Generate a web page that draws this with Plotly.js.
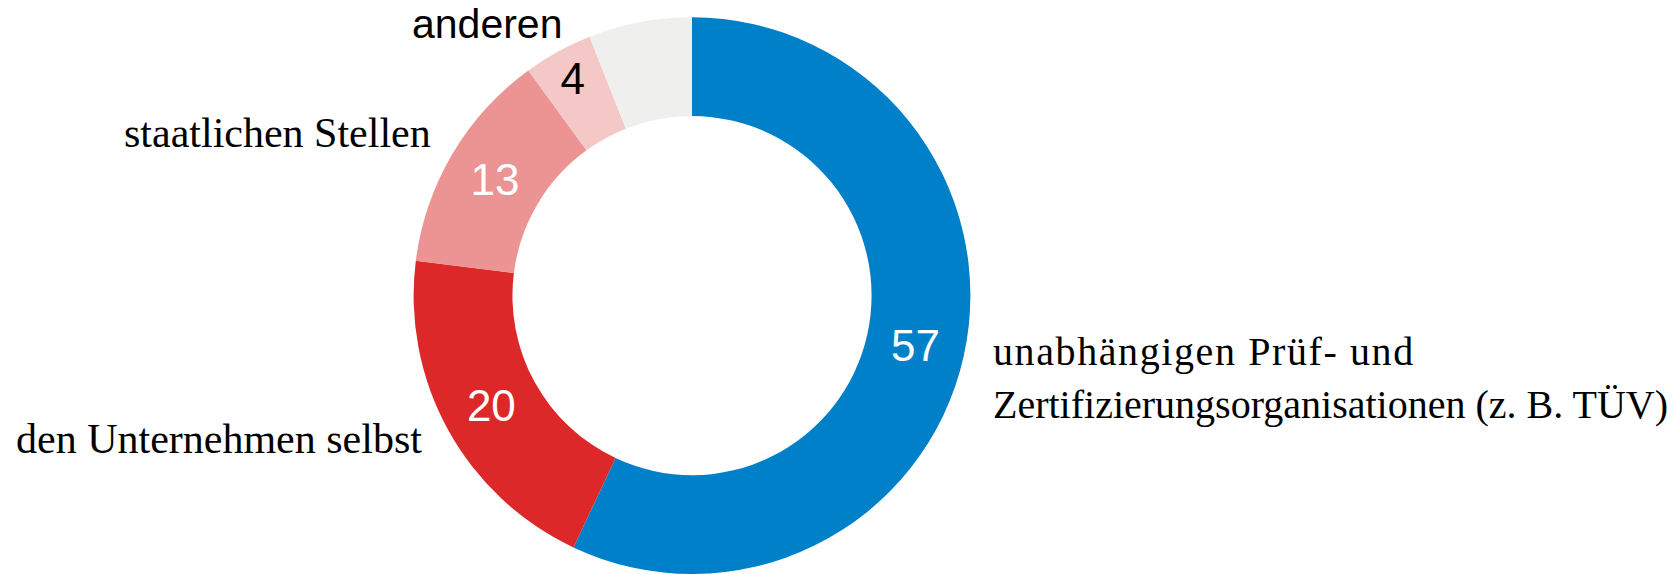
<!DOCTYPE html>
<html>
<head>
<meta charset="utf-8">
<script src="https://cdn.plot.ly/plotly-3.0.1.min.js"></script>
<style>
html,body{margin:0;padding:0;background:#fff;}
#chart{width:1675px;height:574px;}
g.annotation[data-index="0"] text{letter-spacing:1.6px;}
</style>
</head>
<body>
<div id="chart"></div>
<script>
const categories = [
  "unabhängigen Prüf- und<br>Zertifizierungsorganisationen (z. B. TÜV)",
  "den Unternehmen selbst",
  "staatlichen Stellen",
  "",
  "anderen"
];
const values = [57, 20, 13, 4, 6];
const valueLabels = ["57", "20", "13", "4", ""];
const colors = ["#0080C9", "#DC2828", "#EC9393", "#F5C8C8", "#EFEFED"];
const textColors = ["#ffffff", "#ffffff", "#ffffff", "#000000", "#000000"];

const W = 1675, H = 574;
const px = x => x / W;
const py = y => 1 - y / H;

const trace = {
  type: "pie",
  values: values,
  labels: categories.map((c, i) => "s" + i),
  text: valueLabels,
  textinfo: "text",
  textposition: "inside",
  insidetextorientation: "horizontal",
  insidetextfont: {family: "Liberation Sans, Arial, sans-serif", size: 44, color: textColors},
  marker: {colors: colors, line: {width: 0}},
  hole: 0.645,
  sort: false,
  direction: "clockwise",
  rotation: 0,
  domain: {x: [413 / W, 971 / W], y: [0, 0.97]},
  hoverinfo: "none",
  showlegend: false
};

const serifL = {family: "Liberation Serif, Times New Roman, serif", size: 42, color: "#000"};
const serifR = {family: "Liberation Serif, Times New Roman, serif", size: 40, color: "#000"};
const sans = {family: "Liberation Sans, Arial, sans-serif", size: 41, color: "#000"};
const rightLines = categories[0].split("<br>");

const annotations = [
  {text: rightLines[0], x: px(991), y: py(351), xanchor: "left", yanchor: "middle", align: "left", font: serifR},
  {text: rightLines[1], x: px(991), y: py(404), xanchor: "left", yanchor: "middle", align: "left", font: serifR},
  {text: categories[1], x: px(424), y: py(439), xanchor: "right", yanchor: "middle", font: serifL},
  {text: categories[2], x: px(433), y: py(133), xanchor: "right", yanchor: "middle", font: serifL},
  {text: categories[4], x: px(487), y: py(24), xanchor: "center", yanchor: "middle", font: sans}
].map(a => Object.assign({xref: "paper", yref: "paper", showarrow: false}, a));

Plotly.newPlot("chart", [trace], {
  width: W, height: H,
  margin: {l: 0, r: 0, t: 0, b: 0},
  paper_bgcolor: "#fff",
  plot_bgcolor: "#fff",
  annotations: annotations
}, {displayModeBar: false, staticPlot: true});
</script>
</body>
</html>
